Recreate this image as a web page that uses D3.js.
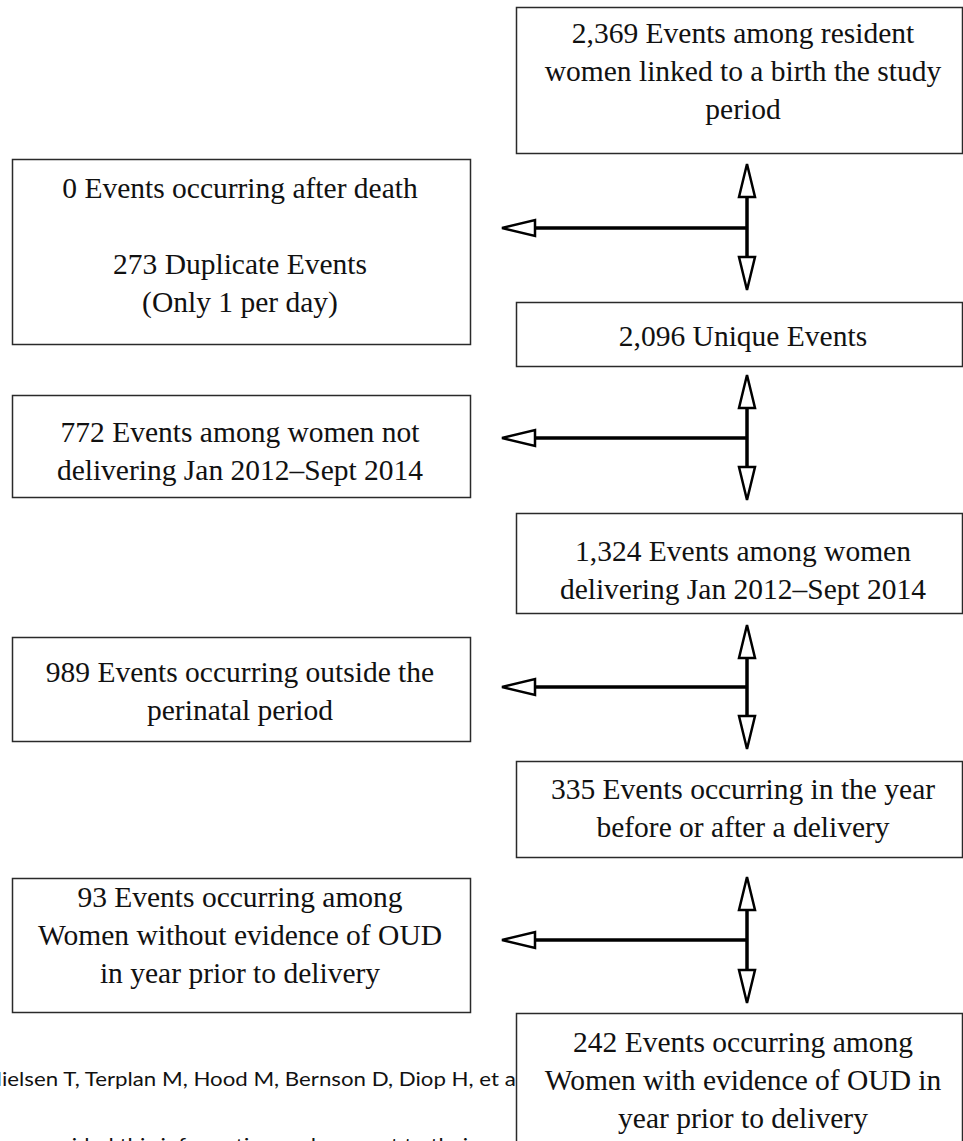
<!DOCTYPE html>
<html>
<head>
<meta charset="utf-8">
<script src="https://cdn.jsdelivr.net/npm/d3@7"></script>
<style>
  html, body { margin: 0; padding: 0; background: #fff; overflow: hidden; }
  svg { display: block; }
</style>
</head>
<body>
<svg id="chart" width="963" height="1141"></svg>
<script>
// ---------- DATA ----------
const mainSteps = [
  ["2,369 Events among resident", "women linked to a birth the study", "period"],
  ["2,096 Unique Events"],
  ["1,324 Events among women", "delivering Jan 2012\u2013Sept 2014"],
  ["335 Events occurring in the year", "before or after a delivery"],
  ["242 Events occurring among", "Women with evidence of OUD in", "year prior to delivery"]
];
const exclusions = [
  ["0 Events occurring after death", "", "273 Duplicate Events", "(Only 1 per day)"],
  ["772 Events among women not", "delivering Jan 2012\u2013Sept 2014"],
  ["989 Events occurring outside the", "perinatal period"],
  ["93 Events occurring among", "Women without evidence of OUD", "in year prior to delivery"]
];
const citationLines = [
  "Nielsen T, Terplan M, Hood M, Bernson D, Diop H, et al.",
  "provided this information and consent to their"
];

// ---------- LAYOUT (positions / sizes) ----------
const W = 963, H = 1141;
const mainBoxes = [
  {x0: 516, x1: 962, y0: 7,    y1: 153,  base: 43},
  {x0: 516, x1: 962, y0: 302,  y1: 366,  base: 346},
  {x0: 516, x1: 962, y0: 513,  y1: 613,  base: 561},
  {x0: 516, x1: 962, y0: 761,  y1: 857,  base: 799},
  {x0: 516, x1: 962, y0: 1013, y1: 1170, base: 1052}
];
const exclBoxes = [
  {x0: 12, x1: 470, y0: 159, y1: 344,  base: 198},
  {x0: 12, x1: 470, y0: 395, y1: 497,  base: 442},
  {x0: 12, x1: 470, y0: 637, y1: 741,  base: 682},
  {x0: 12, x1: 470, y0: 878, y1: 1012, base: 907}
];
const arrows = [
  {y: 228, up: 164, down: 290},
  {y: 438, up: 375, down: 500},
  {y: 687, up: 625, down: 749},
  {y: 940, up: 877, down: 1003}
];
const stemX = 747, leftTipX = 502;
const headLen = 33, headHalf = 8;
const lineH = 38;
const serif = "'Liberation Serif', 'Times New Roman', serif";
const fontSize = 29.5;
const sansFont = "Lato, 'Open Sans', 'Liberation Sans', sans-serif";

const xs = d3.scaleIdentity().domain([0, W]);
const ys = d3.scaleIdentity().domain([0, H]);

const svg = d3.select("#chart");
svg.append("rect").attr("width", W).attr("height", H).attr("fill", "#fff");

// ---------- citation text (behind boxes) ----------
const cit = svg.append("g").attr("class", "citation");
const t1 = cit.append("text")
  .attr("font-family", sansFont).attr("font-size", 19).attr("fill", "#111")
  .text(citationLines[0]);
const endIdx = citationLines[0].indexOf("et a") + 4;
const preN = t1.node().getSubStringLength(0, 1);
const seg = t1.node().getSubStringLength(1, endIdx - 1);
const sc = 514 / seg;
t1.attr("transform", `translate(${2 - preN * sc},1086) scale(${sc},1)`);

const t2 = cit.append("text")
  .attr("font-family", sansFont).attr("font-size", 19).attr("fill", "#111")
  .text(citationLines[1]);
const pre2 = t2.node().getSubStringLength(0, 2);
t2.attr("transform", `translate(${48 - pre2 * sc},1152) scale(${sc},1)`);

// ---------- boxes ----------
function drawBoxes(boxes, texts, cls) {
  const g = svg.selectAll("g." + cls).data(boxes).join("g").attr("class", cls);
  g.append("rect")
    .attr("x", d => xs(d.x0) + 0.5)
    .attr("y", d => ys(d.y0) + 0.5)
    .attr("width", d => xs(d.x1) - xs(d.x0))
    .attr("height", d => ys(d.y1) - ys(d.y0))
    .attr("fill", "#fff")
    .attr("stroke", "#2a2a2a")
    .attr("stroke-width", 1.5);
  g.each(function(d, i) {
    const cx = (xs(d.x0) + xs(d.x1)) / 2 + (cls === "main" ? 4 : -1);
    d3.select(this).selectAll("text").data(texts[i]).join("text")
      .attr("x", cx)
      .attr("y", (t, j) => ys(d.base) + j * lineH)
      .attr("text-anchor", "middle")
      .attr("font-family", serif)
      .attr("font-size", fontSize)
      .attr("fill", "#111")
      .text(t => t);
  });
}
drawBoxes(exclBoxes, exclusions, "excl");
drawBoxes(mainBoxes, mainSteps, "main");

// ---------- arrows ----------
const ag = svg.selectAll("g.arrow").data(arrows).join("g").attr("class", "arrow");
ag.append("line")
  .attr("x1", xs(stemX)).attr("x2", xs(stemX))
  .attr("y1", d => ys(d.up + headLen)).attr("y2", d => ys(d.down - headLen))
  .attr("stroke", "#000").attr("stroke-width", 3.5);
ag.append("line")
  .attr("x1", xs(stemX)).attr("x2", xs(leftTipX + headLen))
  .attr("y1", d => ys(d.y)).attr("y2", d => ys(d.y))
  .attr("stroke", "#000").attr("stroke-width", 3.5);
const tri = (pts) => "M" + pts.map(p => p.join(",")).join("L") + "Z";
ag.append("path")
  .attr("d", d => tri([[stemX, d.up], [stemX - headHalf, d.up + headLen], [stemX + headHalf, d.up + headLen]]))
  .attr("fill", "#fff").attr("stroke", "#000").attr("stroke-width", 2.5).attr("stroke-linejoin", "miter");
ag.append("path")
  .attr("d", d => tri([[stemX, d.down], [stemX - headHalf, d.down - headLen], [stemX + headHalf, d.down - headLen]]))
  .attr("fill", "#fff").attr("stroke", "#000").attr("stroke-width", 2.5).attr("stroke-linejoin", "miter");
ag.append("path")
  .attr("d", d => tri([[leftTipX, d.y], [leftTipX + headLen, d.y - headHalf], [leftTipX + headLen, d.y + headHalf]]))
  .attr("fill", "#fff").attr("stroke", "#000").attr("stroke-width", 2.5).attr("stroke-linejoin", "miter");
</script>
</body>
</html>
